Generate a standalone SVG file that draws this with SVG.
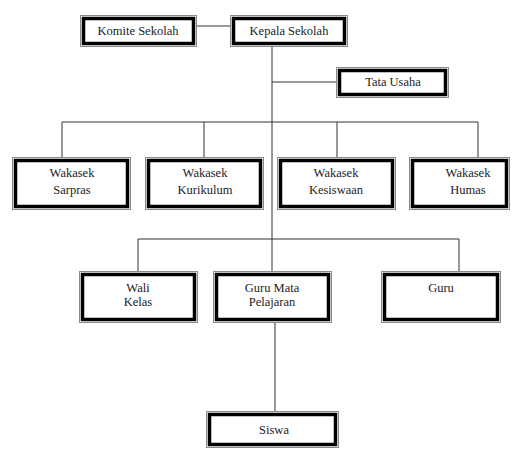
<svg xmlns="http://www.w3.org/2000/svg" width="518" height="449" viewBox="0 0 518 449">
<style>
.o{fill:none;stroke:#8a8a8a;stroke-width:1}
.i{fill:#fff;stroke:#000;stroke-width:3.5}
.t{font-family:"Times New Roman",Times,"Liberation Serif","DejaVu Serif","Noto Serif",FreeSerif,Tinos,serif;font-size:12.5px;fill:#222;text-anchor:middle}
.c{fill:none;stroke:#333;stroke-width:1}
</style>
<rect width="518" height="449" fill="#fff"/>
<g id="connectors">
<path class="c" d="M197 26H231"/>
<path class="c" d="M272 47V272"/>
<path class="c" d="M272 82H336"/>
<path class="c" d="M62 158V122H478V158M204 122V158M337 122V158"/>
<path class="c" d="M138 272V239H459V272"/>
<path class="c" d="M275 322V412"/>
</g>
<g id="komite">
<rect class="o" x="80.5" y="15.5" width="116" height="31"/>
<rect class="i" x="83.5" y="18.5" width="110" height="25"/>
<text class="t" x="138" y="35">Komite Sekolah</text>
</g>
<g id="kepala">
<rect class="o" x="230.5" y="15.5" width="117" height="31"/>
<rect class="i" x="233.5" y="18.5" width="111" height="25"/>
<text class="t" x="289" y="35">Kepala Sekolah</text>
</g>
<g id="tata-usaha">
<rect class="o" x="336.5" y="67.5" width="112" height="30"/>
<rect class="i" x="339.5" y="70.5" width="106" height="24"/>
<text class="t" x="393" y="86">Tata Usaha</text>
</g>
<g id="sarpras">
<rect class="o" x="12.5" y="157.5" width="118" height="52"/>
<rect class="i" x="15.5" y="160.5" width="112" height="46"/>
<text class="t" x="72" y="177">Wakasek</text>
<text class="t" x="72" y="194">Sarpras</text>
</g>
<g id="kurikulum">
<rect class="o" x="145.5" y="157.5" width="118" height="52"/>
<rect class="i" x="148.5" y="160.5" width="112" height="46"/>
<text class="t" x="205" y="177">Wakasek</text>
<text class="t" x="205" y="194">Kurikulum</text>
</g>
<g id="kesiswaan">
<rect class="o" x="277.5" y="157.5" width="118" height="52"/>
<rect class="i" x="280.5" y="160.5" width="112" height="46"/>
<text class="t" x="336" y="177">Wakasek</text>
<text class="t" x="336" y="194">Kesiswaan</text>
</g>
<g id="humas">
<rect class="o" x="409.5" y="157.5" width="100" height="52"/>
<rect class="i" x="412.5" y="160.5" width="94" height="46"/>
<text class="t" x="468" y="177">Wakasek</text>
<text class="t" x="468" y="194">Humas</text>
</g>
<g id="wali-kelas">
<rect class="o" x="79.5" y="271.5" width="118" height="51"/>
<rect class="i" x="82.5" y="274.5" width="112" height="45"/>
<text class="t" x="138" y="292">Wali</text>
<text class="t" x="138" y="306">Kelas</text>
</g>
<g id="guru-mapel">
<rect class="o" x="213.5" y="271.5" width="118" height="51"/>
<rect class="i" x="216.5" y="274.5" width="112" height="45"/>
<text class="t" x="272" y="292">Guru Mata</text>
<text class="t" x="272" y="306">Pelajaran</text>
</g>
<g id="guru">
<rect class="o" x="381.5" y="271.5" width="119" height="51"/>
<rect class="i" x="384.5" y="274.5" width="113" height="45"/>
<text class="t" x="441" y="292">Guru</text>
</g>
<g id="siswa">
<rect class="o" x="206.5" y="411.5" width="132" height="36"/>
<rect class="i" x="209.5" y="414.5" width="126" height="30"/>
<text class="t" x="274" y="434">Siswa</text>
</g>
</svg>
